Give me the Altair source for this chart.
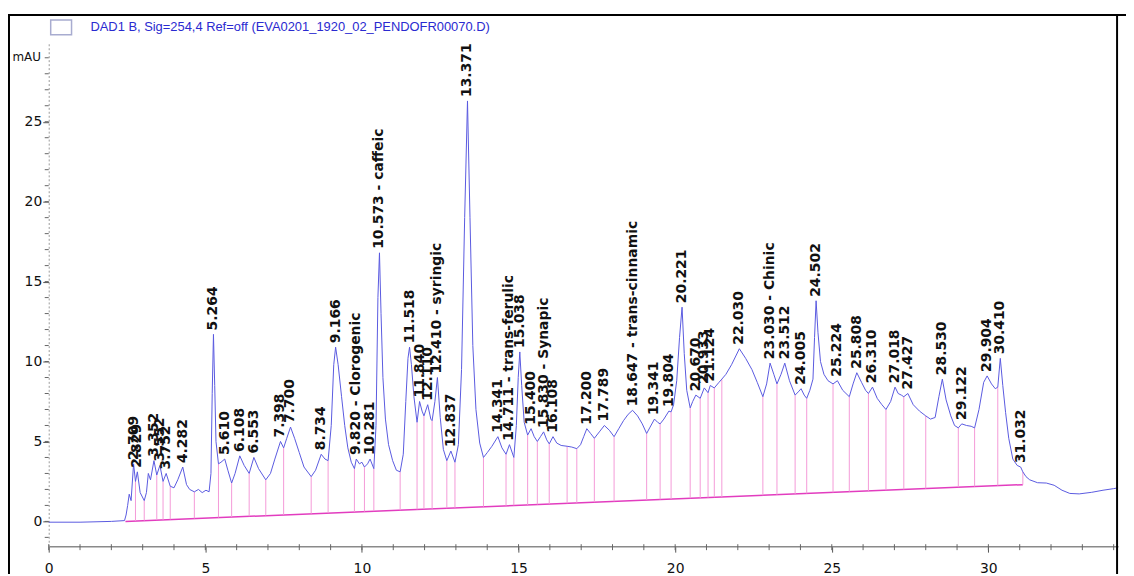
import altair as alt
import pandas as pd

# ---------------- data ----------------
trace_t = [0.0, 1.0, 2.0, 2.42, 2.47, 2.52, 2.57, 2.63, 2.71, 2.77, 2.83, 2.92, 3.05, 3.12, 3.18, 3.25,
           3.36, 3.45, 3.55, 3.65, 3.75, 3.88, 4.0, 4.12, 4.28, 4.4, 4.5, 4.65, 4.78, 4.9, 5.02, 5.12,
           5.18, 5.22, 5.26, 5.3, 5.34, 5.42, 5.5, 5.62, 5.72, 5.84, 5.95, 6.1, 6.24, 6.4, 6.55, 6.7,
           6.93, 7.08, 7.22, 7.4, 7.5, 7.6, 7.72, 7.85, 8.0, 8.15, 8.38, 8.52, 8.7, 8.82, 8.92, 9.02,
           9.1, 9.16, 9.24, 9.35, 9.45, 9.55, 9.66, 9.76, 9.82, 9.92, 10.0, 10.08, 10.18, 10.26, 10.38,
           10.45, 10.51, 10.56, 10.61, 10.67, 10.75, 10.85, 10.98, 11.1, 11.22, 11.32, 11.4, 11.47,
           11.52, 11.58, 11.66, 11.76, 11.84, 11.92, 11.98, 12.1, 12.2, 12.24, 12.33, 12.41, 12.5,
           12.6, 12.71, 12.84, 12.97, 13.08, 13.18, 13.28, 13.37, 13.45, 13.54, 13.64, 13.76, 13.88,
           14.0, 14.15, 14.34, 14.47, 14.6, 14.71, 14.85, 14.93, 14.99, 15.04, 15.1, 15.18, 15.29,
           15.4, 15.5, 15.6, 15.7, 15.8, 15.9, 15.98, 16.1, 16.22, 16.36, 16.55, 16.7, 16.86, 16.98,
           17.08, 17.18, 17.3, 17.42, 17.58, 17.74, 17.9, 18.05, 18.2, 18.35, 18.5, 18.64, 18.8,
           18.95, 19.09, 19.2, 19.34, 19.44, 19.52, 19.64, 19.8, 19.87, 19.95, 20.05, 20.14, 20.22,
           20.29, 20.37, 20.48, 20.56, 20.66, 20.8, 20.93, 21.05, 21.12, 21.25, 21.4, 21.49, 21.62,
           21.8, 22.05, 22.25, 22.45, 22.62, 22.8, 22.92, 23.03, 23.15, 23.25, 23.38, 23.5, 23.65,
           23.83, 23.93, 24.02, 24.12, 24.2, 24.3, 24.4, 24.45, 24.5, 24.56, 24.64, 24.75, 24.88,
           25.04, 25.18, 25.35, 25.56, 25.68, 25.8, 25.95, 26.08, 26.17, 26.3, 26.45, 26.6, 26.73,
           26.88, 27.02, 27.12, 27.22, 27.3, 27.43, 27.6, 27.8, 28.0, 28.15, 28.3, 28.42, 28.53,
           28.65, 28.8, 28.92, 29.04, 29.15, 29.3, 29.45, 29.56, 29.7, 29.85, 29.96, 30.1, 30.22,
           30.3, 30.38, 30.46, 30.55, 30.65, 30.78, 30.92, 31.03, 31.1, 31.2, 31.32, 31.57, 31.85,
           32.1, 32.35, 32.6, 32.9, 33.3, 33.66, 34.0, 34.14]
trace_v = [-0.05, -0.05, 0.0, 0.05, 0.4, 1.0, 1.7, 1.3, 3.6, 2.5, 3.1, 1.8, 1.3, 1.8, 3.0, 2.6,
           3.8, 2.9, 3.5, 2.5, 3.0, 2.2, 2.1, 2.6, 3.4, 2.3, 2.0, 1.85, 2.0, 1.8, 1.95, 1.85,
           3.0, 8.0, 11.7, 8.5, 5.0, 3.6, 3.7, 3.9, 3.2, 2.4, 3.0, 4.1, 3.5, 3.0, 4.0, 3.3,
           2.6, 3.0, 3.9, 5.0, 4.6, 5.2, 5.9, 5.2, 4.3, 3.4, 2.8, 3.2, 4.2, 3.9, 3.8, 6.0,
           9.8, 10.9, 9.8, 7.8, 6.0, 4.6, 3.7, 3.3, 3.9, 3.6, 3.7, 3.4, 3.6, 3.9, 3.3,
           6.0, 14.0, 16.8, 13.0, 9.0, 6.4, 4.8, 3.8, 3.2, 3.1, 4.2, 7.5, 10.2,
           10.9, 9.8, 7.8, 6.2, 7.5, 6.9, 6.6, 7.3, 6.4, 6.3, 7.5, 9.0, 6.5,
           4.5, 3.8, 4.4, 3.7, 4.8, 9.5, 19.0, 26.3, 19.0, 11.0, 7.0, 4.9, 4.0,
           4.3, 4.7, 5.3, 4.6, 4.2, 4.8, 4.0, 6.0, 9.0, 10.6, 8.5, 6.2, 5.4,
           5.8, 5.3, 5.0, 5.3, 5.6, 5.1, 4.85, 5.3, 4.9, 4.75, 4.7, 4.65, 4.55, 4.8,
           5.3, 5.8, 5.5, 5.2, 5.6, 6.0, 5.7, 5.3, 5.8, 6.3, 6.7, 6.95, 6.6,
           6.1, 5.5, 5.9, 6.4, 6.2, 6.1, 6.4, 6.9, 6.85, 7.3, 8.8, 11.5, 13.4,
           10.5, 8.2, 7.1, 7.5, 7.9, 7.7, 8.35, 8.05, 8.5, 8.35, 8.7, 8.9, 9.2,
           9.8, 10.8, 10.2, 9.5, 8.7, 7.8, 8.6, 9.9, 9.2, 8.6, 9.2, 9.9, 8.8,
           7.9, 8.1, 8.3, 7.9, 7.7, 8.2, 8.9, 11.5, 13.8, 11.8, 10.0, 9.2, 8.8,
           8.6, 8.8, 8.2, 7.8, 8.6, 9.3, 8.7, 8.2, 8.0, 8.4, 7.7, 7.3, 7.0,
           7.5, 8.4, 8.0, 7.9, 7.8, 8.0, 7.3, 6.9, 6.6, 6.4, 6.5, 7.8, 8.9,
           7.6, 6.6, 6.0, 5.85, 6.1, 6.0, 5.95, 5.85, 7.0, 8.7, 9.1, 8.6, 8.3,
           8.4, 10.2, 8.5, 6.8, 5.2, 3.9, 3.5, 3.4, 3.1, 2.8, 2.6, 2.42, 2.4,
           2.26, 1.95, 1.75, 1.72, 1.82, 1.95, 2.05, 2.1]

base_t = [2.45, 31.1]
base_v = [0.0, 2.3]

drop_t = [2.77, 3.05, 3.45, 3.65, 3.88, 4.65, 5.42, 5.84, 6.4, 6.93,
          7.5, 8.38, 8.92, 9.76, 10.08, 10.38, 11.22, 11.76, 11.98, 12.24,
          12.71, 12.97, 13.88, 14.6, 14.85, 15.29, 15.6, 15.98, 16.55, 16.86,
          17.42, 18.05, 19.09, 19.52, 19.87, 20.48, 20.8, 21.05, 21.25, 21.49,
          22.8, 23.25, 23.83, 24.2, 25.04, 25.56, 26.17, 26.73, 27.3, 28.0,
          29.04, 29.56, 30.3, 31.1]
drop_bottom = [0.03, 0.05, 0.08, 0.10, 0.12, 0.18, 0.24, 0.27, 0.32, 0.36,
               0.41, 0.48, 0.52, 0.59, 0.61, 0.64, 0.70, 0.75, 0.77, 0.79,
               0.82, 0.85, 0.92, 0.98, 1.00, 1.03, 1.06, 1.09, 1.13, 1.16,
               1.20, 1.25, 1.34, 1.37, 1.40, 1.45, 1.47, 1.49, 1.51, 1.53,
               1.63, 1.67, 1.72, 1.75, 1.81, 1.86, 1.91, 1.95, 2.00, 2.05,
               2.14, 2.18, 2.24, 2.30]

label_t = [2.71, 2.83, 3.36, 3.55, 3.75, 4.28, 5.26, 5.62, 6.1, 6.55, 7.4, 7.72, 8.7, 9.16,
           9.82, 10.26, 10.56, 11.52, 11.84, 12.1, 12.41, 12.84, 13.37, 14.34, 14.71, 15.04,
           15.4, 15.8, 16.1, 17.18, 17.74, 18.64, 19.34, 19.8, 20.22, 20.66, 20.93, 21.12,
           22.05, 23.03, 23.5, 24.02, 24.5, 25.18, 25.8, 26.3, 27.02, 27.43, 28.53, 29.15,
           29.96, 30.38, 31.03]
label_text = ["2.709", "2.829", "3.352", "3.552", "3.752", "4.282", "5.264", "5.610", "6.108",
              "6.553", "7.398", "7.700", "8.734", "9.166", "9.820 - Clorogenic", "10.281",
              "10.573 - caffeic", "11.518", "11.840", "12.110", "12.410 - syringic", "12.837",
              "13.371", "14.341", "14.711 - trans-ferulic", "15.038", "15.400",
              "15.830 - Synapic", "16.108", "17.200", "17.789", "18.647 - trans-cinnamic",
              "19.341", "19.804", "20.221", "20.670", "20.933", "21.124", "22.030",
              "23.030 - Chinic", "23.512", "24.005", "24.502", "25.224", "25.808", "26.310",
              "27.018", "27.427", "28.530", "29.122", "29.904", "30.410", "31.032"]

x_major = [0, 5, 10, 15, 20, 25, 30]
x_minor = list(range(0, 35))
y_major = [0, 5, 10, 15, 20, 25]
y_minor = list(range(-1, 30))

legend_text = "DAD1 B, Sig=254,4 Ref=off (EVA0201_1920_02_PENDOFR00070.D)"

# ---------------- tables ----------------
assert len(trace_t) == len(trace_v)
assert len(drop_t) == len(drop_bottom)
assert len(label_t) == len(label_text)
lookup = dict(zip(trace_t, trace_v))

trace_df = pd.DataFrame({"t": trace_t, "v": trace_v})
base_df = pd.DataFrame({"t": base_t, "v": base_v})
drop_df = pd.DataFrame({"t": drop_t, "v": drop_bottom, "v2": [lookup[t] for t in drop_t]})
label_df = pd.DataFrame({"t": label_t, "v": [lookup[t] for t in label_t], "text": label_text})
xminor_df = pd.DataFrame({"t": x_minor})
yminor_df = pd.DataFrame({"v": y_minor})
one = pd.DataFrame({"a": [0]})

W, H = 1077, 508
PAD_L, PAD_T, PAD_R, PAD_B = 41, 32, 8, 28

xs = alt.Scale(domain=[0, 34.14], nice=False, zero=False)
ys = alt.Scale(domain=[-1.55, 30.0], nice=False, zero=False)

FONT = "DejaVu Sans"
axis_x = alt.Axis(values=x_major, format="d", title=None, grid=False, tickSize=6,
                  tickColor="#555555", domainColor="#8a8a8a", domainWidth=1.5,
                  labelFont=FONT, labelFontSize=14, labelColor="#111111",
                  labelPadding=10, labelFlush=False)
axis_y = alt.Axis(values=y_major, format="d", title="mAU", titleAngle=0, titleAlign="left",
                  titleBaseline="middle", titleX=-37, titleY=15, titleFont=FONT,
                  titleFontSize=12, titleFontWeight="normal", titleColor="#111111",
                  grid=False, tickSize=6, tickColor="#555555", domainColor="#9a9a9a",
                  domainDash=[2, 2], labelFont=FONT, labelFontSize=14,
                  labelColor="#111111", labelPadding=1)

X = alt.X("t:Q", scale=xs, axis=axis_x)
Y = alt.Y("v:Q", scale=ys, axis=axis_y)

baseline = alt.Chart(base_df).mark_line(color="#e23cbf", strokeWidth=1.5).encode(x=X, y=Y)

drops = alt.Chart(drop_df).mark_rule(color="#f49ad8", strokeWidth=1).encode(
    x=X, y=Y, y2="v2:Q")

trace = alt.Chart(trace_df).mark_line(color="#5a5ae0", strokeWidth=1).encode(x=X, y=Y)

labels = alt.Chart(label_df).mark_text(
    angle=270, align="left", baseline="middle", dx=4, font=FONT, fontSize=14,
    fontWeight="bold", color="#111111").encode(x=X, y=Y, text="text:N")

xminor = alt.Chart(xminor_df).mark_rule(color="#666666", strokeWidth=1).encode(
    x=X, y=alt.value(H - 2), y2=alt.value(H + 4))
yminor = alt.Chart(yminor_df).mark_rule(color="#666666", strokeWidth=1).encode(
    y=Y, x=alt.value(-4), x2=alt.value(0))

frame_left = alt.Chart(one).mark_rule(color="black", strokeWidth=2).encode(
    x=alt.value(-PAD_L + 1), y=alt.value(-PAD_T + 5), y2=alt.value(H + PAD_B))
frame_top = alt.Chart(one).mark_rule(color="black", strokeWidth=2).encode(
    y=alt.value(-PAD_T + 5), x=alt.value(-PAD_L), x2=alt.value(W + PAD_R))
frame_right = alt.Chart(one).mark_rule(color="black", strokeWidth=2).encode(
    x=alt.value(W - 1), y=alt.value(-PAD_T + 5), y2=alt.value(H + PAD_B))

legend_box = alt.Chart(one).mark_rect(fill="white", stroke="#a8acd0", strokeWidth=1.5).encode(
    x=alt.value(2), x2=alt.value(23), y=alt.value(-22), y2=alt.value(-7))
legend_lbl = alt.Chart(one).mark_text(
    align="left", baseline="middle", font="Liberation Sans", fontSize=13,
    color="#2a2ad0", text=legend_text).encode(x=alt.value(42), y=alt.value(-15))

chart = alt.layer(
    baseline, drops, trace, labels, xminor, yminor,
    frame_left, frame_top, frame_right, legend_box, legend_lbl
).properties(
    width=W, height=H,
    autosize=alt.AutoSizeParams(type="none"),
    padding={"left": PAD_L, "top": PAD_T, "right": PAD_R, "bottom": PAD_B},
    background="white",
).configure_view(stroke=None)

chart.save("out.html", embed_options={"renderer": "svg", "actions": False})
